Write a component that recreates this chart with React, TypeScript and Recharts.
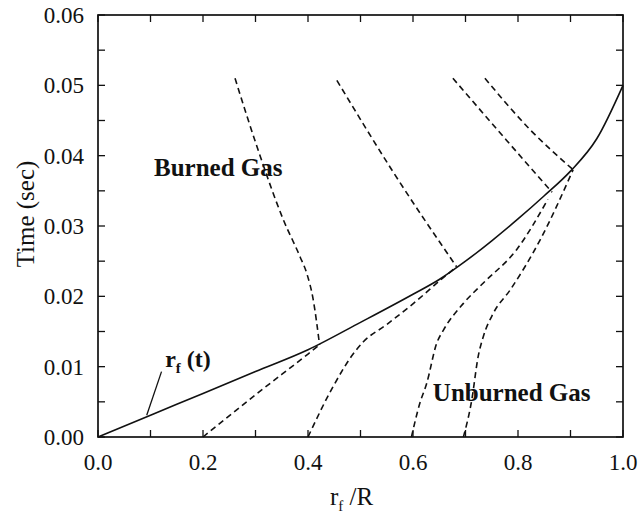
import { LineChart, Line, XAxis, YAxis, ReferenceDot, ReferenceLine } from "recharts"

// flame front r_f(t)
const frontX = [0, 0.1, 0.2, 0.3, 0.4, 0.5, 0.6, 0.65, 0.7, 0.75, 0.8, 0.85, 0.9, 0.95, 1.0]
const frontT = [0, 0.0031, 0.0062, 0.0093, 0.0124, 0.0163, 0.0203, 0.0224, 0.025, 0.0279, 0.031, 0.0343, 0.0378, 0.0424, 0.05]

// particle paths, unburned part (below the front) and burned part (above it)
const aUnX = [0.2, 0.3, 0.4, 0.422]
const aUnT = [0, 0.006, 0.0118, 0.0131]
const aBuX = [0.261, 0.305, 0.353, 0.385, 0.3975, 0.41, 0.422]
const aBuT = [0.051, 0.0408, 0.0309, 0.0256, 0.0233, 0.0195, 0.0131]

const bUnX = [0.4, 0.448, 0.49, 0.505, 0.55, 0.601, 0.66, 0.683]
const bUnT = [0, 0.0072, 0.0122, 0.0135, 0.016, 0.019, 0.0228, 0.0242]
const bBuX = [0.455, 0.562, 0.683]
const bBuT = [0.0507, 0.0377, 0.0242]

const cUnX = [0.597, 0.613, 0.626, 0.645, 0.658, 0.696, 0.734, 0.797, 0.857]
const cUnT = [0, 0.0048, 0.0076, 0.0133, 0.0152, 0.019, 0.0219, 0.0266, 0.0338]
const cBuX = [0.676, 0.778, 0.865]
const cBuT = [0.051, 0.0422, 0.0348]

const dUnX = [0.696, 0.712, 0.724, 0.734, 0.753, 0.785, 0.842, 0.905]
const dUnT = [0, 0.0053, 0.0114, 0.0143, 0.0176, 0.0209, 0.028, 0.038]
const dBuX = [0.737, 0.823, 0.905]
const dBuT = [0.051, 0.0437, 0.038]

const xTicks = [0, 0.1, 0.2, 0.3, 0.4, 0.5, 0.6, 0.7, 0.8, 0.9, 1.0]
const yTicks = [0, 0.005, 0.01, 0.015, 0.02, 0.025, 0.03, 0.035, 0.04, 0.045, 0.05, 0.055, 0.06]

const xMax = 1
const yMax = 0.06

// plot box, same numbers as the chart margins / axis sizes below
const W = 639
const H = 520
const M = { top: 15, right: 16, bottom: 43, left: 0 }
const yAxisW = 98
const xAxisH = 40
const box = {
  x: M.left + yAxisW,
  y: M.top,
  w: W - M.left - yAxisW - M.right,
  h: H - M.top - M.bottom - xAxisH,
}
const tickLen = 7
const px = (v: number) => box.x + (v / xMax) * box.w
const py = (v: number) => box.y + box.h - (v / yMax) * box.h

const zip = (xs: number[], ys: number[]) => xs.map((x, i) => ({ x, y: ys[i] }))

const serif = "'Liberation Serif', 'Times New Roman', serif"
const ink = "#111"

const tickStyle = { fontFamily: serif, fontSize: 23, fill: ink }

const dashedPaths = [
  zip(aUnX, aUnT), zip(aBuX, aBuT),
  zip(bUnX, bUnT), zip(bBuX, bBuT),
  zip(cUnX, cUnT), zip(cBuX, cBuT),
  zip(dUnX, dUnT), zip(dBuX, dBuT),
]

const boldText = (value: string) => ({ viewBox }: any) => (
  <text
    x={viewBox.x + viewBox.width / 2}
    y={viewBox.y + viewBox.height / 2}
    dy="0.35em"
    textAnchor="middle"
    fontFamily={serif}
    fontSize={25}
    fontWeight="bold"
    fill={ink}
  >
    {value}
  </text>
)

const rfLabel = ({ viewBox }: any) => (
  <text
    x={viewBox.x}
    y={viewBox.y + viewBox.height / 2}
    dy="0.35em"
    fontFamily={serif}
    fontSize={24}
    fontWeight="bold"
    fill={ink}
  >
    r
    <tspan fontSize={15} dy={6}>f</tspan>
    <tspan dy={-6}> (t)</tspan>
  </text>
)

export default function App() {
  return (
    <div style={{ position: "absolute", left: 0, top: 0, width: W, height: H, background: "#fff" }}>
      <LineChart width={W} height={H} margin={M}>
        <XAxis
          dataKey="x"
          type="number"
          domain={[0, xMax]}
          ticks={xTicks}
          interval={0}
          axisLine={false}
          tickLine={false}
          tickMargin={11}
          height={xAxisH}
          tick={tickStyle}
          tickFormatter={(v: number) => (Math.round(v * 10) % 2 === 0 ? v.toFixed(1) : "")}
        />
        <YAxis
          type="number"
          domain={[0, yMax]}
          ticks={yTicks}
          interval={0}
          axisLine={false}
          tickLine={false}
          tickMargin={8}
          width={yAxisW}
          tick={tickStyle}
          tickFormatter={(v: number) => (Math.round(v * 1000) % 10 === 0 ? v.toFixed(2) : "")}
        />
        {dashedPaths.map((d, i) => (
          <Line
            key={i}
            data={d}
            dataKey="y"
            type="monotone"
            stroke={ink}
            strokeWidth={1.6}
            strokeDasharray="6 4"
            dot={false}
            activeDot={false}
            isAnimationActive={false}
          />
        ))}
        <Line
          data={zip(frontX, frontT)}
          dataKey="y"
          type="monotone"
          stroke={ink}
          strokeWidth={1.6}
          dot={false}
          activeDot={false}
          isAnimationActive={false}
        />
        <ReferenceLine
          segment={[{ x: 0.0928, y: 0.0031 }, { x: 0.121, y: 0.0093 }]}
          stroke={ink}
          strokeWidth={1.3}
        />
        <ReferenceDot x={0.229} y={0.0384} r={0} fill="none" stroke="none" label={{ content: boldText("Burned Gas") }} />
        <ReferenceDot x={0.788} y={0.0063} r={0} fill="none" stroke="none" label={{ content: boldText("Unburned Gas") }} />
        <ReferenceDot x={0.128} y={0.0112} r={0} fill="none" stroke="none" label={{ content: rfLabel }} />

        {/* box with inward ticks on all four sides */}
        <g stroke={ink} fill="none">
          <rect x={box.x} y={box.y} width={box.w} height={box.h} strokeWidth={1.7} />
          {xTicks.map((t) => (
            <g key={"x" + t} strokeWidth={1.3}>
              <line x1={px(t)} y1={box.y + box.h} x2={px(t)} y2={box.y + box.h - tickLen} />
              <line x1={px(t)} y1={box.y} x2={px(t)} y2={box.y + tickLen} />
            </g>
          ))}
          {yTicks.map((t) => (
            <g key={"y" + t} strokeWidth={1.3}>
              <line x1={box.x} y1={py(t)} x2={box.x + tickLen} y2={py(t)} />
              <line x1={box.x + box.w} y1={py(t)} x2={box.x + box.w - tickLen} y2={py(t)} />
            </g>
          ))}
        </g>

        <text
          x={25}
          y={214}
          transform="rotate(-90 25 214)"
          textAnchor="middle"
          dy="0.35em"
          fontFamily={serif}
          fontSize={25}
          fill={ink}
        >
          Time (sec)
        </text>
        <text x={330} y={505} fontFamily={serif} fontSize={25} fill={ink}>
          r
          <tspan fontSize={15} dy={6}>f</tspan>
          <tspan dy={-6}> /R</tspan>
        </text>
      </LineChart>
    </div>
  )
}
